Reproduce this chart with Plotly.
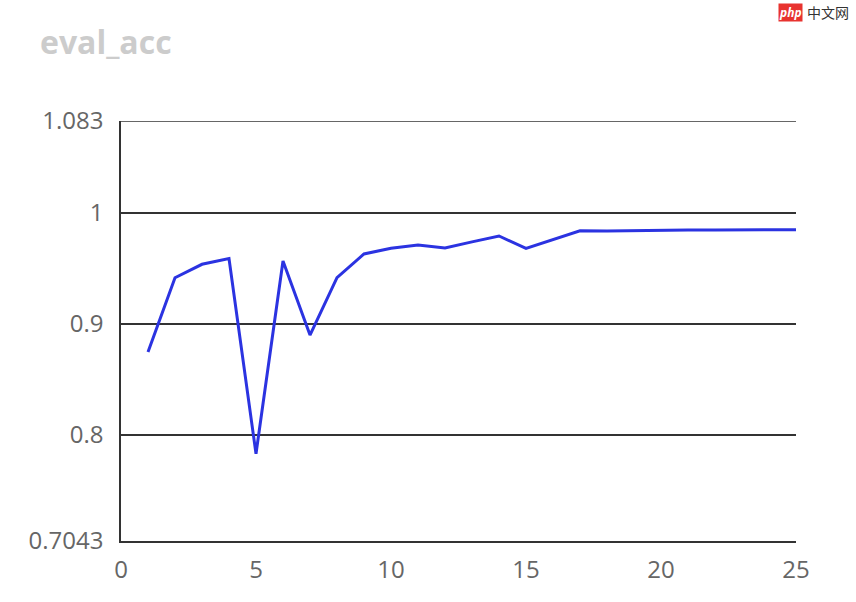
import plotly.graph_objects as go

epochs = list(range(1, 26))
eval_acc = [0.8748, 0.9417, 0.9538, 0.9589, 0.7829, 0.9568, 0.8900, 0.9417, 0.9631,
            0.9682, 0.9712, 0.9685, 0.9740, 0.9793, 0.9682, 0.9763, 0.9840, 0.9838,
            0.9843, 0.9845, 0.9848, 0.9848, 0.9848, 0.9849, 0.9850]

y_tickvals = [0.7043, 0.8, 0.9, 1.0, 1.083]
y_ticktext = ["0.7043", "0.8", "0.9", "1", "1.083"]
x_tickvals = [0, 5, 10, 15, 20, 25]
y_min, y_max = 0.7043, 1.083

FONT = "Open Sans, Noto Sans, sans-serif"
W, H = 856, 602
L, R, T, B = 121, 60, 121, 61
PW, PH = W - L - R, H - T - B

fig = go.Figure()
fig.add_trace(go.Scatter(
    x=epochs, y=eval_acc, mode="lines",
    line=dict(color="rgb(43,51,225)", width=3),
    hoverinfo="x+y", showlegend=False,
))

fig.add_shape(type="line", xref="paper", yref="y", x0=0, x1=1, y0=y_max, y1=y_max,
              line=dict(color="#333333", width=1.5), layer="below")

wm_y = (H - B - 12) / PH
fig.update_layout(
    width=W, height=H,
    margin=dict(l=L, r=R, t=T, b=B),
    paper_bgcolor="white", plot_bgcolor="white",
    title=dict(text="<b>eval_acc</b>", x=40 / W, xanchor="left", y=1 - 43 / H, yanchor="middle",
               font=dict(family=FONT, size=32, color="#cccccc")),
    xaxis=dict(range=[0, 25], tickvals=x_tickvals, showgrid=False, zeroline=False,
               showline=True, linecolor="#333333", linewidth=1.5,
               ticks="", ticklabelstandoff=6,
               tickfont=dict(family=FONT, size=24, color="#666666")),
    yaxis=dict(range=[y_min, y_max], tickvals=y_tickvals, ticktext=y_ticktext,
               showgrid=True, gridcolor="#333333", gridwidth=1.5, zeroline=False,
               showline=True, linecolor="#333333", linewidth=1.5,
               ticks="", ticklabelstandoff=11,
               tickfont=dict(family=FONT, size=24, color="#666666")),
    annotations=[
        dict(text="<i><b>php</b></i>", x=(803 - L) / PW, y=wm_y, xref="paper", yref="paper",
             xanchor="right", yanchor="middle", showarrow=False,
             font=dict(family=FONT, size=12, color="white"), bgcolor="#e8332f", borderpad=0),
        dict(text="中文网", x=(805 - L) / PW, y=wm_y, xref="paper", yref="paper",
             xanchor="left", yanchor="middle", showarrow=False,
             font=dict(family="Noto Sans CJK SC", size=14, color="#333333")),
    ],
)

fig.write_html("out.html", config={"displayModeBar": False},
               post_script="document.body.style.margin='0px';")
